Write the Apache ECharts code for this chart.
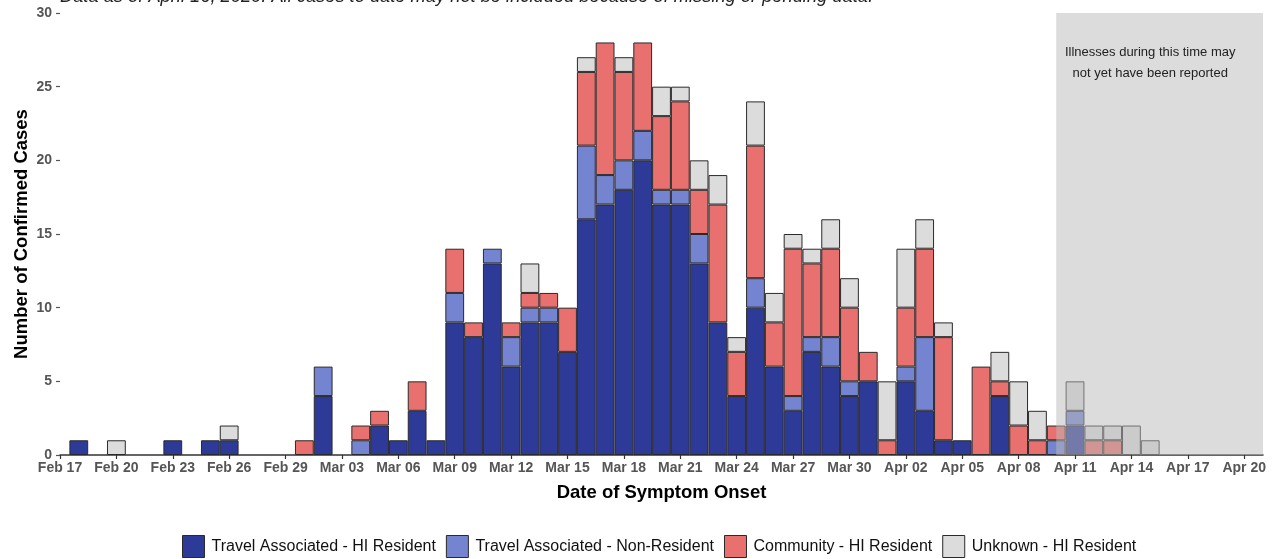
<!DOCTYPE html>
<html><head><meta charset="utf-8">
<script src="https://cdn.jsdelivr.net/npm/echarts@6/dist/echarts.min.js"></script>
<style>html,body{margin:0;padding:0;background:#fff}#c{width:1276px;height:559px}</style>
</head><body><div id="c"></div>
<script>
// ---- data ----
const onsetDates = [
  'Feb 18','Feb 19','Feb 20','Feb 21','Feb 22','Feb 23','Feb 24','Feb 25','Feb 26','Feb 27','Feb 28','Feb 29',
  'Mar 01','Mar 02','Mar 03','Mar 04','Mar 05','Mar 06','Mar 07','Mar 08','Mar 09','Mar 10',
  'Mar 11','Mar 12','Mar 13','Mar 14','Mar 15','Mar 16','Mar 17','Mar 18','Mar 19','Mar 20',
  'Mar 21','Mar 22','Mar 23','Mar 24','Mar 25','Mar 26','Mar 27','Mar 28','Mar 29','Mar 30','Mar 31',
  'Apr 01','Apr 02','Apr 03','Apr 04','Apr 05','Apr 06','Apr 07','Apr 08','Apr 09','Apr 10',
  'Apr 11','Apr 12','Apr 13','Apr 14','Apr 15'
];
const travelHIResident = [
  1,0,0,0,0,1,0,1,1,0,0,0,
  0,4,0,0,2,1,3,1,9,8,
  13,6,9,9,7,16,17,18,20,17,
  17,13,9,4,10,6,3,7,6,4,5,
  0,5,3,1,1,0,4,0,0,0,
  2,0,0,0,0
];
const travelNonResident = [
  0,0,0,0,0,0,0,0,0,0,0,0,
  0,2,0,1,0,0,0,0,2,0,
  1,2,1,1,0,5,2,2,2,1,
  1,2,0,0,2,0,1,1,2,1,0,
  0,1,5,0,0,0,0,0,0,1,
  1,0,0,0,0
];
const communityHIResident = [
  0,0,0,0,0,0,0,0,0,0,0,0,
  1,0,0,1,1,0,2,0,3,1,
  0,1,1,1,3,5,9,6,6,5,
  6,3,8,3,9,3,10,5,6,5,2,
  1,4,6,7,0,6,1,2,1,1,
  0,1,1,0,0
];
const unknownHIResident = [
  0,0,1,0,0,0,0,0,1,0,0,0,
  0,0,0,0,0,0,0,0,0,0,
  0,0,2,0,0,1,0,1,0,2,
  1,2,2,1,3,2,1,1,2,2,0,
  4,4,2,1,0,0,2,3,2,0,
  2,1,1,2,1
];
const seriesNames = ['Travel Associated - HI Resident','Travel Associated - Non-Resident','Community - HI Resident','Unknown - HI Resident'];
const xTickLabels = ['Feb 17','Feb 20','Feb 23','Feb 26','Feb 29','Mar 03','Mar 06','Mar 09','Mar 12','Mar 15','Mar 18','Mar 21','Mar 24','Mar 27','Mar 30','Apr 02','Apr 05','Apr 08','Apr 11','Apr 14','Apr 17','Apr 20'];
const yTickValues = [0,5,10,15,20,25,30];
const axisStart = 'Feb 17', axisEnd = 'Apr 21';
const shadeFrom = 'Apr 10', shadeTo = 'Apr 21';
const noteLines = ['Illnesses during this time may','not yet have been reported'];
const notePos = ['Apr 15', 26.6];
const subtitleText = 'Data as of April 16, 2020. All cases to date may not be included because of missing or pending data.';
const xTitle = 'Date of Symptom Onset';
const yTitle = 'Number of Confirmed Cases';

// ---- helpers ----
const months = [['Feb', -17, 29], ['Mar', 12, 31], ['Apr', 43, 30]];
function dayIndex(s){ const [m,d] = s.split(' '); return months.find(x => x[0] === m)[1] + parseInt(d,10); }
function dayLabel(i){
  for (const [m, base, n] of months) { const d = i - base; if (d >= 1 && d <= n) return m + ' ' + String(d).padStart(2,'0'); }
  return '';
}
// category axis: one category per day from axisStart to axisEnd
const axisDays = [];
for (let i = dayIndex(axisStart); i <= dayIndex(axisEnd); i++) axisDays.push(dayLabel(i));
const tickSet = new Set(xTickLabels.map(dayIndex));

function toAxisArray(arr){
  const out = axisDays.map(() => '-');
  onsetDates.forEach((d, i) => { if (arr[i]) out[dayIndex(d) - dayIndex(axisStart)] = arr[i]; });
  return out;
}

const colors = ['#2D3A98','#7584D0','#E8706F','#DCDCDC'];
const values = [travelHIResident, travelNonResident, communityHIResident, unknownHIResident];
const FONT = 'Liberation Sans, Arial, Helvetica, sans-serif';

const barSeries = values.map((arr, k) => ({
  name: seriesNames[k],
  type: 'bar',
  stack: 'cases',
  barWidth: '100%',
  itemStyle: { color: colors[k], borderColor: '#2a2a2a', borderWidth: 1 },
  emphasis: { disabled: true },
  data: toAxisArray(arr)
}));

const shadeSeries = {
  type: 'custom',
  z: 10,
  silent: true,
  clip: false,
  encode: { x: [0, 1], y: 2 },
  data: [[dayIndex(shadeFrom) - dayIndex(axisStart), dayIndex(shadeTo) - dayIndex(axisStart), yTickValues[yTickValues.length-1]]],
  renderItem: function (params, api) {
    const p0 = api.coord([api.value(0), api.value(2)]);
    const p1 = api.coord([api.value(1), 0]);
    const t = api.coord([dayIndex(notePos[0]) - dayIndex(axisStart), notePos[1]]);
    return {
      type: 'group',
      children: [
        { type: 'rect', shape: { x: p0[0], y: p0[1], width: p1[0]-p0[0], height: p1[1]-p0[1] },
          style: { fill: 'rgba(185,185,185,0.5)' } },
        { type: 'text', x: t[0], y: t[1],
          style: { text: noteLines.join('\n'), align: 'center', verticalAlign: 'middle',
                   font: '13px ' + FONT, lineHeight: 21, fill: '#222' } }
      ]
    };
  }
};

const chart = echarts.init(document.getElementById('c'), null, { renderer: 'canvas' });
chart.setOption({
  animation: false,
  backgroundColor: '#fff',
  grid: { left: 60, right: 13, top: 13, bottom: 104, containLabel: false },
  graphic: [{
    type: 'text', left: 60, top: -12,
    style: { text: subtitleText, font: 'italic 18.3px ' + FONT, fill: '#222' }
  }],
  legend: {
    data: seriesNames,
    left: 177, top: 530,
    icon: 'rect', itemWidth: 22, itemHeight: 22, itemGap: 10,
    itemStyle: { borderColor: '#2a2a2a', borderWidth: 1 },
    textStyle: { fontFamily: FONT, fontSize: 16, color: '#111', padding: [0,0,0,2] },
    selectedMode: false
  },
  xAxis: {
    type: 'category',
    data: axisDays,
    boundaryGap: false,
    name: xTitle, nameLocation: 'middle', nameGap: 28,
    nameTextStyle: { fontFamily: FONT, fontSize: 18.5, fontWeight: 'bold', color: '#000' },
    splitLine: { show: false },
    axisLine: { show: true, lineStyle: { color: '#333', width: 1.5 } },
    axisTick: { show: true, length: 4, lineStyle: { color: '#333', width: 1.2 },
                interval: (i) => tickSet.has(i + dayIndex(axisStart)) },
    axisLabel: { margin: 6, fontFamily: FONT, fontSize: 14, fontWeight: 'bold', color: '#555',
                 interval: (i) => tickSet.has(i + dayIndex(axisStart)) }
  },
  yAxis: {
    type: 'value', min: 0, max: 30, interval: 5,
    name: yTitle, nameLocation: 'middle', nameGap: 29, nameMoveOverlap: false,
    nameTextStyle: { fontFamily: FONT, fontSize: 18.5, fontWeight: 'bold', color: '#000' },
    splitLine: { show: false },
    axisLine: { show: false },
    axisTick: { show: true, length: 4, lineStyle: { color: '#555', width: 1.2 } },
    axisLabel: { margin: 8, fontFamily: FONT, fontSize: 14, fontWeight: 'bold', color: '#555' }
  },
  series: [...barSeries, shadeSeries]
});
</script></body></html>
